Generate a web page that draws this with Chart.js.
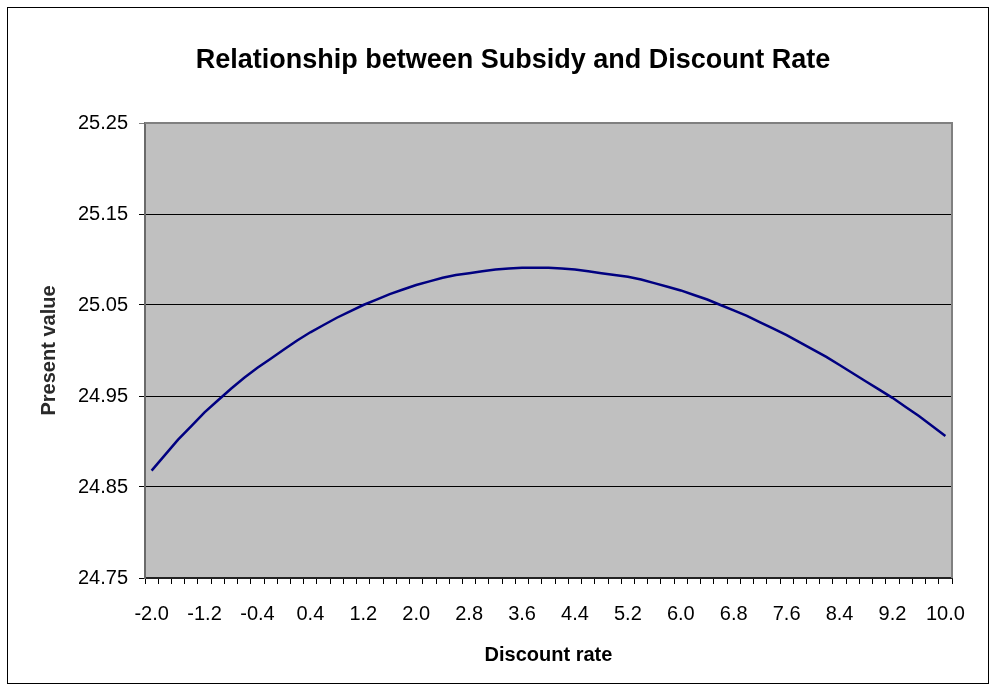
<!DOCTYPE html>
<html>
<head>
<meta charset="utf-8">
<script src="https://cdn.jsdelivr.net/npm/chart.js@4.4.1/dist/chart.umd.min.js"></script>
<style>
  html, body { margin: 0; padding: 0; background: #ffffff; }
  #wrap { width: 997px; height: 692px; }
</style>
</head>
<body>
<div id="wrap"><canvas id="chart" width="997" height="692"></canvas></div>
<script>
// Chart text
const chartTitle = 'Relationship between Subsidy and Discount Rate';
const xAxisTitle = 'Discount rate';
const yAxisTitle = 'Present value';

// Discount rate categories (percent), step 0.2
const discountRates = [
  '-2.0', '-1.8', '-1.6', '-1.4', '-1.2', '-1.0', '-0.8', '-0.6', '-0.4', '-0.2',
  '0.0', '0.2', '0.4', '0.6', '0.8', '1.0', '1.2', '1.4', '1.6', '1.8',
  '2.0', '2.2', '2.4', '2.6', '2.8', '3.0', '3.2', '3.4', '3.6', '3.8',
  '4.0', '4.2', '4.4', '4.6', '4.8', '5.0', '5.2', '5.4', '5.6', '5.8',
  '6.0', '6.2', '6.4', '6.6', '6.8', '7.0', '7.2', '7.4', '7.6', '7.8',
  '8.0', '8.2', '8.4', '8.6', '8.8', '9.0', '9.2', '9.4', '9.6', '9.8',
  '10.0'
];

// Present value of the subsidy at each discount rate
const presentValues = [
  24.868, 24.885, 24.902, 24.917, 24.932, 24.945, 24.958, 24.970, 24.981, 24.991,
  25.001, 25.011, 25.020, 25.028, 25.036, 25.043, 25.050, 25.056, 25.062, 25.067,
  25.072, 25.076, 25.080, 25.083, 25.085, 25.087, 25.089, 25.090, 25.091, 25.091,
  25.091, 25.090, 25.089, 25.087, 25.085, 25.083, 25.081, 25.078, 25.074, 25.070,
  25.066, 25.061, 25.056, 25.050, 25.044, 25.038, 25.031, 25.024, 25.017, 25.009,
  25.001, 24.993, 24.984, 24.975, 24.966, 24.957, 24.948, 24.938, 24.928, 24.917,
  24.906
];

// Value axis range and spacing
const yMin = 24.75;
const yMax = 25.25;
const yStep = 0.1;
// Every n-th category gets a label
const labelEvery = 4;

const FONT = "'Liberation Sans', Arial, Helvetica, sans-serif";

// Grey plot area plus its top/right border
const plotBackground = {
  id: 'plotBackground',
  beforeDraw(chart) {
    const { ctx, chartArea: a } = chart;
    ctx.save();
    ctx.fillStyle = '#c0c0c0';
    ctx.fillRect(a.left, a.top, a.right - a.left, a.bottom - a.top);
    ctx.restore();
  },
  afterDatasetsDraw(chart) {
    const { ctx, chartArea: a } = chart;
    ctx.save();
    ctx.strokeStyle = '#808080';
    ctx.lineWidth = 2;
    ctx.beginPath();
    ctx.moveTo(a.left, a.top);
    ctx.lineTo(a.right, a.top);
    ctx.lineTo(a.right, a.bottom);
    ctx.stroke();
    ctx.restore();
  }
};

// Outer frame, chart heading and the (softly rendered) vertical axis title
const frameAndTitles = {
  id: 'frameAndTitles',
  afterDraw(chart) {
    const { ctx, width, height, chartArea: a } = chart;
    ctx.save();
    ctx.strokeStyle = '#000000';
    ctx.lineWidth = 1;
    ctx.strokeRect(7.5, 7.5, width - 16, height - 16);

    ctx.fillStyle = '#000000';
    ctx.font = `bold 27px ${FONT}`;
    ctx.textAlign = 'center';
    ctx.textBaseline = 'middle';
    ctx.fillText(chartTitle, 513, 61);
    ctx.restore();

    ctx.save();
    ctx.translate(49, (a.top + a.bottom) / 2);
    ctx.rotate(-Math.PI / 2);
    ctx.filter = 'blur(0.6px)';
    ctx.fillStyle = '#2a2a2a';
    ctx.font = `bold 20px ${FONT}`;
    ctx.textAlign = 'center';
    ctx.textBaseline = 'middle';
    ctx.fillText(yAxisTitle, 0, 0);
    ctx.restore();
  }
};

new Chart(document.getElementById('chart'), {
  type: 'line',
  data: {
    labels: discountRates,
    datasets: [{
      label: yAxisTitle,
      data: presentValues,
      borderColor: '#000080',
      borderWidth: 2.5,
      pointRadius: 0,
      tension: 0,
      fill: false
    }]
  },
  options: {
    responsive: false,
    animation: false,
    devicePixelRatio: 1,
    layout: { padding: { top: 123, right: 45, bottom: 0, left: 0 } },
    plugins: {
      legend: { display: false },
      tooltip: { enabled: false },
      title: { display: false }
    },
    scales: {
      x: {
        type: 'category',
        offset: true,
        grid: {
          offset: true,
          drawOnChartArea: false,
          drawTicks: true,
          tickLength: 6,
          color: '#000000',
          lineWidth: 1
        },
        border: { display: true, color: '#222222', width: 2 },
        ticks: {
          autoSkip: false,
          maxRotation: 0,
          minRotation: 0,
          padding: 18,
          color: '#000000',
          font: { family: FONT, size: 20 },
          callback: (v, i) => (i % labelEvery === 0 ? discountRates[i] : '')
        },
        title: {
          display: true,
          text: xAxisTitle,
          color: '#000000',
          font: { family: FONT, size: 20, weight: 'bold' },
          padding: { top: 0, bottom: 25 }
        },
        afterFit(scale) { scale.height = 114; }
      },
      y: {
        min: yMin,
        max: yMax,
        grid: {
          drawTicks: true,
          tickLength: 6,
          color: (c) => (c.tick && Math.abs(c.tick.value - yMax) < 1e-6 ? '#808080' : '#000000'),
          lineWidth: 1
        },
        border: { display: true, color: '#6a6a6a', width: 2 },
        ticks: {
          stepSize: yStep,
          padding: 11,
          color: '#000000',
          font: { family: FONT, size: 20 },
          callback: (v) => Number(v).toFixed(2)
        },
        title: { display: false },
        afterFit(scale) { scale.width = 145; }
      }
    }
  },
  plugins: [plotBackground, frameAndTitles]
});
</script>
</body>
</html>
